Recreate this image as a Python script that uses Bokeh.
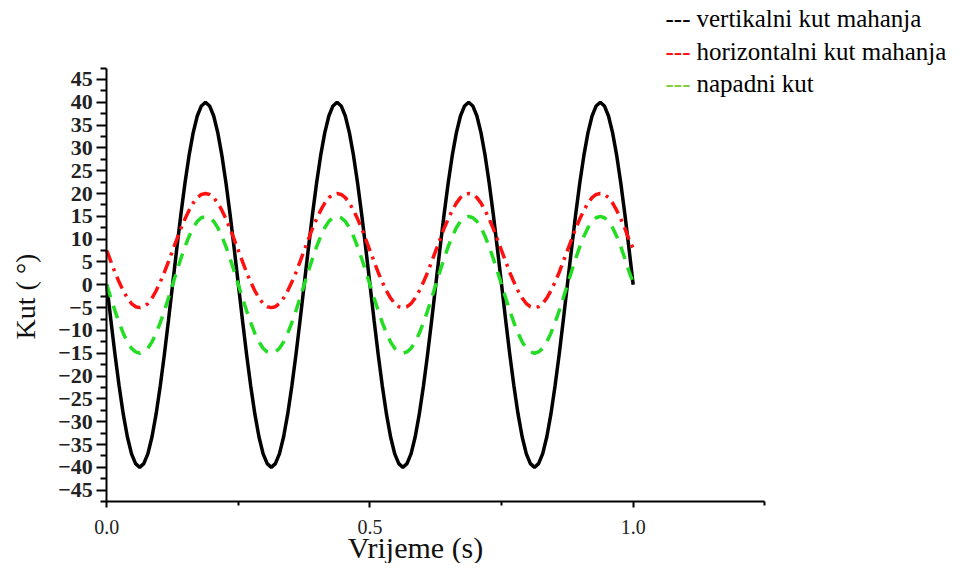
import math
from bokeh.plotting import figure
from bokeh.models import Range1d, FixedTicker, Label, PrintfTickFormatter
from bokeh.embed import file_html
from bokeh.resources import INLINE

# ---- data ----
t = [i / 128 for i in range(129)]  # sampling grid, seconds

vertikalni = [
    0, -7.8, -15.3, -22.2, -28.3, -33.3, -37.0, -39.2, -40.0, -39.2, -37.0, -33.3, -28.3, -22.2, -15.3, -7.8,
    0, 7.8, 15.3, 22.2, 28.3, 33.3, 37.0, 39.2, 40.0, 39.2, 37.0, 33.3, 28.3, 22.2, 15.3, 7.8,
    0, -7.8, -15.3, -22.2, -28.3, -33.3, -37.0, -39.2, -40.0, -39.2, -37.0, -33.3, -28.3, -22.2, -15.3, -7.8,
    0, 7.8, 15.3, 22.2, 28.3, 33.3, 37.0, 39.2, 40.0, 39.2, 37.0, 33.3, 28.3, 22.2, 15.3, 7.8,
    0, -7.8, -15.3, -22.2, -28.3, -33.3, -37.0, -39.2, -40.0, -39.2, -37.0, -33.3, -28.3, -22.2, -15.3, -7.8,
    0, 7.8, 15.3, 22.2, 28.3, 33.3, 37.0, 39.2, 40.0, 39.2, 37.0, 33.3, 28.3, 22.2, 15.3, 7.8,
    0, -7.8, -15.3, -22.2, -28.3, -33.3, -37.0, -39.2, -40.0, -39.2, -37.0, -33.3, -28.3, -22.2, -15.3, -7.8,
    0, 7.8, 15.3, 22.2, 28.3, 33.3, 37.0, 39.2, 40.0, 39.2, 37.0, 33.3, 28.3, 22.2, 15.3, 7.8,
    0,
]

horizontalni = [
    7.5, 5.1, 2.7, 0.6, -1.3, -2.9, -4.1, -4.8, -5.0, -4.8, -4.1, -2.9, -1.3, 0.6, 2.7, 5.1,
    7.5, 9.9, 12.3, 14.4, 16.3, 17.9, 19.1, 19.8, 20.0, 19.8, 19.1, 17.9, 16.3, 14.4, 12.3, 9.9,
    7.5, 5.1, 2.7, 0.6, -1.3, -2.9, -4.1, -4.8, -5.0, -4.8, -4.1, -2.9, -1.3, 0.6, 2.7, 5.1,
    7.5, 9.9, 12.3, 14.4, 16.3, 17.9, 19.1, 19.8, 20.0, 19.8, 19.1, 17.9, 16.3, 14.4, 12.3, 9.9,
    7.5, 5.1, 2.7, 0.6, -1.3, -2.9, -4.1, -4.8, -5.0, -4.8, -4.1, -2.9, -1.3, 0.6, 2.7, 5.1,
    7.5, 9.9, 12.3, 14.4, 16.3, 17.9, 19.1, 19.8, 20.0, 19.8, 19.1, 17.9, 16.3, 14.4, 12.3, 9.9,
    7.5, 5.1, 2.7, 0.6, -1.3, -2.9, -4.1, -4.8, -5.0, -4.8, -4.1, -2.9, -1.3, 0.6, 2.7, 5.1,
    7.5, 9.9, 12.3, 14.4, 16.3, 17.9, 19.1, 19.8, 20.0, 19.8, 19.1, 17.9, 16.3, 14.4, 12.3, 9.9,
    8.0,
]

napadni = [
    0, -2.9, -5.7, -8.3, -10.6, -12.5, -13.9, -14.7, -15.0, -14.7, -13.9, -12.5, -10.6, -8.3, -5.7, -2.9,
    0, 2.9, 5.7, 8.3, 10.6, 12.5, 13.9, 14.7, 15.0, 14.7, 13.9, 12.5, 10.6, 8.3, 5.7, 2.9,
    0, -2.9, -5.7, -8.3, -10.6, -12.5, -13.9, -14.7, -15.0, -14.7, -13.9, -12.5, -10.6, -8.3, -5.7, -2.9,
    0, 2.9, 5.7, 8.3, 10.6, 12.5, 13.9, 14.7, 15.0, 14.7, 13.9, 12.5, 10.6, 8.3, 5.7, 2.9,
    0, -2.9, -5.7, -8.3, -10.6, -12.5, -13.9, -14.7, -15.0, -14.7, -13.9, -12.5, -10.6, -8.3, -5.7, -2.9,
    0, 2.9, 5.7, 8.3, 10.6, 12.5, 13.9, 14.7, 15.0, 14.7, 13.9, 12.5, 10.6, 8.3, 5.7, 2.9,
    0, -2.9, -5.7, -8.3, -10.6, -12.5, -13.9, -14.7, -15.0, -14.7, -13.9, -12.5, -10.6, -8.3, -5.7, -2.9,
    0, 2.9, 5.7, 8.3, 10.6, 12.5, 13.9, 14.7, 15.0, 14.7, 13.9, 12.5, 10.6, 8.3, 5.7, 2.9,
    0.5,
]

series_names = ["vertikalni kut mahanja", "horizontalni kut mahanja", "napadni kut"]
x_ticks = [0.0, 0.5, 1.0]
x_minor_ticks = [0.25, 0.75, 1.25]
y_ticks = [-45, -40, -35, -30, -25, -20, -15, -10, -5, 0, 5, 10, 15, 20, 25, 30, 35, 40, 45]
y_minor_ticks = [-47.5, -42.5, -37.5, -32.5, -27.5, -22.5, -17.5, -12.5, -7.5, -2.5,
                 2.5, 7.5, 12.5, 17.5, 22.5, 27.5, 32.5, 37.5, 42.5, 47.5]
x_title = "Vrijeme (s)"
y_title = "Kut ( \u00b0)"

# ---- figure: frame fills the canvas, axes drawn at fixed locations ----
SERIF = "Liberation Serif"
p = figure(width=959, height=563,
           x_range=Range1d(-0.2019, 1.6199), y_range=Range1d(-61.08, 62.31),
           output_backend="svg", toolbar_location=None,
           min_border_left=0, min_border_right=0,
           min_border_top=0, min_border_bottom=0)
p.outline_line_color = None
p.grid.visible = False
p.background_fill_color = "white"
p.border_fill_color = "white"

for ax in (p.xaxis[0], p.yaxis[0]):
    ax.axis_line_width = 2
    ax.axis_line_color = "black"
    ax.major_tick_line_width = 2
    ax.minor_tick_line_width = 2
    ax.major_tick_line_color = "black"
    ax.minor_tick_line_color = "black"
    ax.major_tick_in = 0
    ax.minor_tick_in = 0
    ax.major_label_text_font = SERIF
    ax.major_label_text_color = "#222222"

xa = p.xaxis[0]
xa.fixed_location = -47.5
xa.bounds = (0, 1.25)
xa.ticker = FixedTicker(ticks=x_ticks, minor_ticks=x_minor_ticks)
xa.formatter = PrintfTickFormatter(format="%.1f")
xa.major_tick_out = 6
xa.minor_tick_out = 4
xa.major_label_standoff = 12
xa.major_label_text_font_size = "20px"

ya = p.yaxis[0]
ya.fixed_location = 0
ya.bounds = (-47.5, 47.5)
ya.ticker = FixedTicker(ticks=y_ticks, minor_ticks=y_minor_ticks)
ya.major_tick_out = 10
ya.minor_tick_out = 6
ya.major_label_standoff = 4
ya.major_label_text_font_size = "22px"
ya.major_label_text_font_style = "bold"

p.line(t, vertikalni, line_color="black", line_width=3.5)
p.line(t, horizontalni, line_color="#ff1010", line_width=3.5, line_dash="13 6 3 6")
p.line(t, napadni, line_color="#22dd22", line_width=3.5, line_dash="13 9")

# axis titles
p.add_layout(Label(x=0.5864, y=-57.6, text=x_title, text_font=SERIF, text_font_size="30px",
                   text_align="center", text_baseline="middle", text_color="#111111"))
p.add_layout(Label(x=-0.1545, y=-2.56, text=y_title, text_font=SERIF, text_font_size="28px",
                   angle=math.pi / 2, text_align="center", text_baseline="middle",
                   text_color="#111111"))

# legend (text style as in reference)
legend_colors = ["black", "#ff1010", "#7ccf3c"]
legend_y = [58.3, 51.2, 44.1]
for name, col, ly in zip(series_names, legend_colors, legend_y):
    p.add_layout(Label(x=1.0614, y=ly, text="---", text_font=SERIF, text_font_size="25px",
                       text_color=col, text_baseline="middle"))
    p.add_layout(Label(x=1.1202, y=ly, text=name, text_font=SERIF, text_font_size="25px",
                       text_color="black", text_baseline="middle"))

open("out.html", "w").write(file_html(p, INLINE))
